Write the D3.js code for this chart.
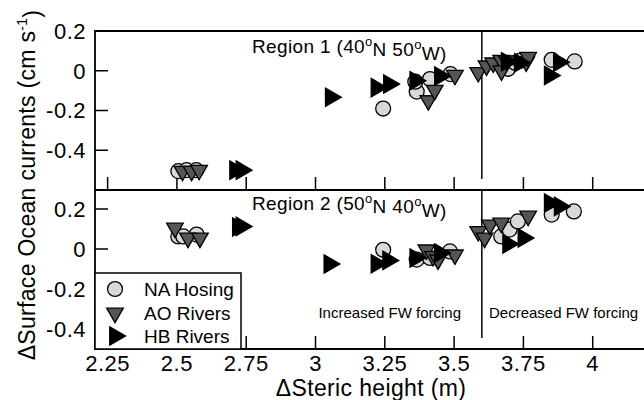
<!DOCTYPE html>
<html>
<head>
<meta charset="utf-8">
<script src="https://cdn.jsdelivr.net/npm/d3@7"></script>
<style>
  body { margin: 0; background: #fff; }
  svg text { font-family: "Liberation Sans", Arial, sans-serif; fill: #000; }
</style>
</head>
<body>
<div id="chart"></div>
<script>
// Region 1 (40N 50W), [steric height, current]
const r1Hosing = [[2.505, -0.505], [2.535, -0.50], [2.57, -0.50], [3.244, -0.19], [3.365, -0.105],
    [3.36, -0.055], [3.413, -0.042], [3.487, -0.017], [3.695, 0.01], [3.72, 0.04], [3.737, 0.05],
    [3.852, 0.055], [3.935, 0.047]];
const r1AO = [[2.52, -0.505], [2.553, -0.505], [2.58, -0.50], [3.407, -0.15], [3.43, -0.098],
    [3.503, -0.022], [3.587, -0.008], [3.617, 0.025], [3.641, 0.04], [3.67, 0.053], [3.671, 0.0],
    [3.69, 0.05], [3.76, 0.045], [3.767, 0.068]];
const r1HB = [[2.71, -0.50], [2.733, -0.50], [3.055, -0.133], [3.22, -0.085], [3.265, -0.067],
    [3.36, -0.05], [3.449, -0.027], [3.69, 0.045], [3.737, 0.04], [3.845, -0.024], [3.878, 0.043]];

// Region 2 (50N 40W)
const r2Hosing = [[2.505, 0.063], [2.523, 0.063], [2.571, 0.072], [3.244, -0.004], [3.365, -0.053],
    [3.413, -0.045], [3.485, -0.012], [3.67, 0.063], [3.7, 0.097], [3.73, 0.138], [3.852, 0.172],
    [3.932, 0.188]];
const r2AO = [[2.493, 0.105], [2.54, 0.055], [2.583, 0.055], [3.40, -0.004], [3.424, -0.037],
    [3.442, -0.054], [3.503, -0.029], [3.587, 0.088], [3.61, 0.055], [3.629, 0.12], [3.67, 0.13],
    [3.767, 0.165]];
const r2HB = [[2.72, 0.11], [2.733, 0.113], [3.05, -0.075], [3.22, -0.074], [3.262, -0.057],
    [3.36, -0.045], [3.449, -0.02], [3.695, 0.025], [3.75, 0.055], [3.845, 0.23], [3.881, 0.213]];

const xTicks = [2.25, 2.5, 2.75, 3, 3.25, 3.5, 3.75, 4];
const yTicks = [0.2, 0, -0.2, -0.4];
const seriesNames = ["NA Hosing", "AO Rivers", "HB Rivers"];
const splitX = 3.6;

const W = 644, H = 400;
const left = 95, right = 660;

const svg = d3.select("#chart").append("svg")
    .attr("width", W).attr("height", H);

const x = d3.scaleLinear().domain([2.2045, 4.2]).range([left, left + (4.2 - 2.2045) * 277.2]);

const panels = [
    {data: [r1Hosing, r1AO, r1HB], domain: [-0.6, 0.2], range: [190, 31], label: ["Region 1 (40", "N 50", "W)"], ly: 53},
    {data: [r2Hosing, r2AO, r2HB], domain: [-0.5, 0.3], range: [349, 189], label: ["Region 2 (50", "N 40", "W)"], ly: 210}
];

const markers = [
    {type: d3.symbolCircle, size: 175, rot: 0, fill: "#d9d9d9"},
    {type: d3.symbolTriangle, size: 120, rot: 180, fill: "#555555"},
    {type: d3.symbolTriangle, size: 145, rot: 90, fill: "#000000"}
];

const fmtY = d => d === 0 ? "0" : d3.format(".1f")(d).replace("−", "-");

panels.forEach((p, pi) => {
    const y = d3.scaleLinear().domain(p.domain).range(p.range);
    const g = svg.append("g");

    // y ticks, inside
    g.selectAll("line.ytick").data(yTicks).join("line")
        .attr("x1", left).attr("x2", left + 13)
        .attr("y1", d => y(d)).attr("y2", d => y(d))
        .attr("stroke", "#000").attr("stroke-width", 1.5);
    g.selectAll("text.ylab").data(yTicks).join("text")
        .attr("x", 86).attr("y", d => y(d)).attr("dy", "0.36em")
        .attr("text-anchor", "end").style("font-size", "22px").style("letter-spacing", "0.5px")
        .text(fmtY);

    // x ticks, inside from bottom
    g.selectAll("line.xtick").data(xTicks).join("line")
        .attr("x1", d => x(d)).attr("x2", d => x(d))
        .attr("y1", p.range[0]).attr("y2", p.range[0] - 13)
        .attr("stroke", "#000").attr("stroke-width", 1.5);

    // split line
    g.append("line")
        .attr("x1", x(splitX)).attr("x2", x(splitX))
        .attr("y1", p.range[1]).attr("y2", p.range[0] - 11)
        .attr("stroke", "#000").attr("stroke-width", 1.5);

    // region label
    const t = g.append("text").attr("x", 252).attr("y", p.ly)
        .style("font-size", "19px").style("letter-spacing", "0.35px");
    t.append("tspan").text(p.label[0]);
    t.append("tspan").attr("dy", "-0.55em").style("font-size", "13px").text("o");
    t.append("tspan").attr("dy", "0.55em").text(p.label[1]);
    t.append("tspan").attr("dy", "-0.55em").style("font-size", "13px").text("o");
    t.append("tspan").attr("dy", "0.55em").text(p.label[2]);

    p.data.forEach((series, si) => {
        const m = markers[si];
        g.selectAll(null).data(series).join("path")
            .attr("d", d3.symbol().type(m.type).size(m.size))
            .attr("transform", d => `translate(${x(d[0])},${y(d[1])}) rotate(${m.rot})`)
            .attr("fill", m.fill).attr("stroke", "#000").attr("stroke-width", 1.3);
    });
});

// frame
svg.append("path")
    .attr("d", `M${right},31H${left}V349H${right}M${left},190H${right}`)
    .attr("fill", "none").attr("stroke", "#000").attr("stroke-width", 1.8);

// forcing notes
svg.append("text").attr("x", 461).attr("y", 318).attr("text-anchor", "end")
    .style("font-size", "15px").text("Increased FW forcing");
svg.append("text").attr("x", 489).attr("y", 318)
    .style("font-size", "15px").text("Decreased FW forcing");

// x tick labels and title
svg.selectAll("text.xlab").data(xTicks).join("text")
    .attr("x", d => x(d)).attr("y", 371).attr("text-anchor", "middle")
    .style("font-size", "22px").style("letter-spacing", "0.5px").text(d => d);
svg.append("text").attr("x", 371).attr("y", 396).attr("text-anchor", "middle")
    .style("font-size", "23px").style("letter-spacing", "0.35px").text("ΔSteric height (m)");

const yt = svg.append("text")
    .attr("transform", "translate(35,185) rotate(-90)")
    .attr("text-anchor", "middle").style("font-size", "23px").style("letter-spacing", "0.3px");
yt.append("tspan").text("ΔSurface Ocean currents (cm s");
yt.append("tspan").attr("dy", "-0.55em").style("font-size", "14px").text("-1");
yt.append("tspan").attr("dy", "0.55em").text(")");

// legend
const lg = svg.append("g");
lg.append("rect").attr("x", left).attr("y", 273).attr("width", 146).attr("height", 76)
    .attr("fill", "#fff").attr("stroke", "#000").attr("stroke-width", 1.5);
const legendY = [289, 313, 336];
seriesNames.forEach((name, i) => {
    const m = markers[i];
    lg.append("path")
        .attr("d", d3.symbol().type(m.type).size(m.size)())
        .attr("transform", `translate(115,${legendY[i]}) rotate(${m.rot})`)
        .attr("fill", m.fill).attr("stroke", "#000").attr("stroke-width", 1.3);
    lg.append("text").attr("x", 144).attr("y", legendY[i]).attr("dy", "0.36em")
        .style("font-size", "19px").text(name);
});
</script>
</body>
</html>
